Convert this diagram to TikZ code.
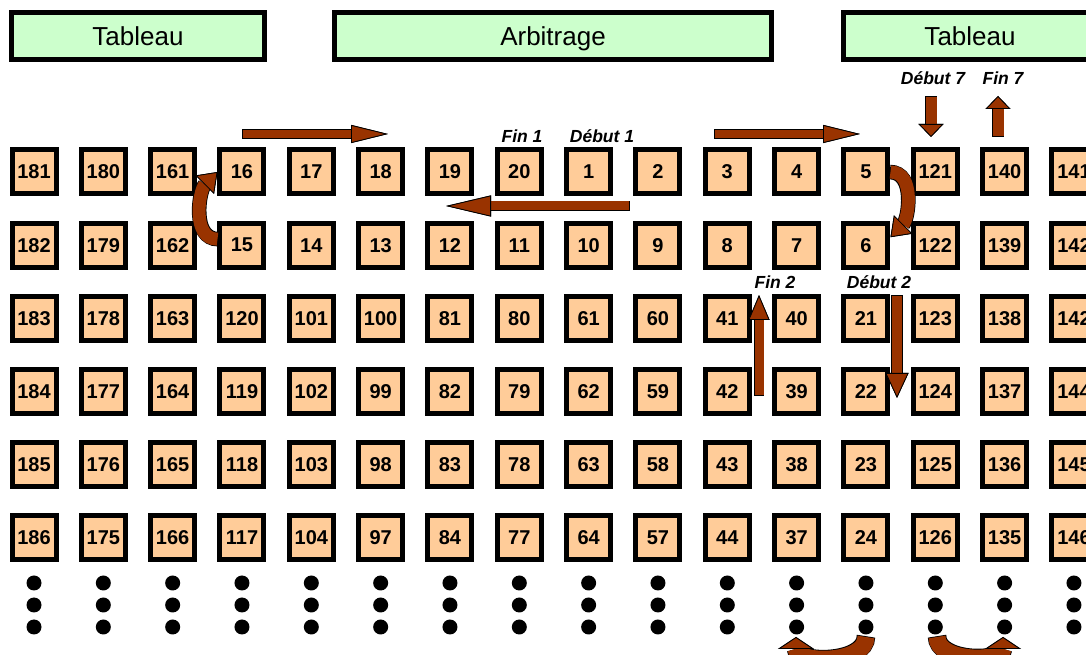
\documentclass[tikz,border=0pt]{standalone}
\usepackage{fontspec}
\setmainfont{Liberation Sans}
\usetikzlibrary{arrows.meta}

\definecolor{peach}{HTML}{FFCC99}
\definecolor{mint}{HTML}{CCFFCC}
\definecolor{rust}{HTML}{993300}

\tikzset{
  cell/.style={draw, line width=5pt, fill=peach, minimum size=44pt, inner sep=0pt,
    font=\bfseries\fontsize{20}{24}\selectfont},
  banner/.style={draw, line width=5pt, fill=mint, minimum height=47pt,
    text height=19pt, text depth=0pt, font=\fontsize{26}{30}\selectfont},
  tag/.style={font=\bfseries\itshape\fontsize{17.5}{20}\selectfont},
  flow/.style n args={3}{draw=rust, line width=#1,
    -{Triangle[length=#2, width=#3, line width=0.8pt, color=black, fill=rust]},
    preaction={draw=black, line width=#1+1.6pt, shorten <=-0.8pt}}
}

\begin{document}
\begin{tikzpicture}[x=1pt,y=1pt]
  \useasboundingbox (0,0) rectangle (1086,655);
  \clip (0,0) rectangle (1086,655);

  % headers
  \node[banner, minimum width=253pt] (tabL) at (138,619) {Tableau};
  \node[banner, minimum width=437pt] (arb) at (553,619) {Arbitrage};
  \node[banner, minimum width=253pt] (tabR) at (970,619) {Tableau};

  % grid of cells
  \foreach \row [count=\r from 0] in {
      {181,180,161,16,17,18,19,20,1,2,3,4,5,121,140,141},
      {182,179,162,15,14,13,12,11,10,9,8,7,6,122,139,142},
      {183,178,163,120,101,100,81,80,61,60,41,40,21,123,138,142},
      {184,177,164,119,102,99,82,79,62,59,42,39,22,124,137,144},
      {185,176,165,118,103,98,83,78,63,58,43,38,23,125,136,145},
      {186,175,166,117,104,97,84,77,64,57,44,37,24,126,135,146}}
    \foreach \v [count=\c from 0] in \row
      \node[cell] (n\v) at ({34+69.33*\c},{483-73.2*\r}) {\v};

  % dots
  \foreach \c in {0,...,15}
    \foreach \y in {72,50,28}
      \fill ({34+69.33*\c},\y) circle (7.5pt);

  % labels
  \node[tag] (fin1) at (522,519) {Fin 1};
  \node[tag] (deb1) at (602,519) {Début 1};
  \node[tag] (deb7) at (933,577) {Début 7};
  \node[tag] (fin7) at (1003,577) {Fin 7};
  \node[tag] (fin2) at (775,373) {Fin 2};
  \node[tag] (deb2) at (879,373) {Début 2};

  % straight arrows
  \coordinate (a1) at (243,521); \coordinate (b1) at (388,521);
  \coordinate (a2) at (715,521); \coordinate (b2) at (860,521);
  \coordinate (a3) at (629,449); \coordinate (b3) at (446,449);
  \draw[flow={8pt}{37pt}{18pt}] (a1) -- (b1);
  \draw[flow={8pt}{37pt}{18pt}] (a2) -- (b2);
  \draw[flow={9pt}{45pt}{21pt}] (a3) -- (b3);

  % vertical arrows
  \coordinate (a7) at (931,558); \coordinate (b7) at (931,518);
  \coordinate (c7) at (998,519); \coordinate (d7) at (998,559);
  \coordinate (c2) at (759,260); \coordinate (d2) at (759,360);
  \coordinate (a2d) at (897,359); \coordinate (b2d) at (897,257);
  \draw[flow={11pt}{13pt}{25pt}] (a7) -- (b7);
  \draw[flow={11pt}{13pt}{25pt}] (c7) -- (d7);
  \draw[flow={9pt}{25pt}{21pt}] (c2) -- (d2);
  \draw[flow={10pt}{25pt}{23pt}] (a2d) -- (b2d);

  % bent arrows
  \draw[flow={13pt}{18pt}{26pt}] (n5.east) to[out=0,in=45] ([yshift=8pt]n6.east);
  \draw[flow={13pt}{18pt}{26pt}] ([yshift=6pt]n15.west) to[out=180,in=225] (n16.west);

  % bottom bends
  \coordinate (u1) at (866,18); \coordinate (v1) at (796,18);
  \coordinate (u2) at (937,18); \coordinate (v2) at (1003,18);
  \draw[flow={17pt}{12pt}{36pt}] (u1) to[out=-90,in=-90] (v1);
  \draw[flow={17pt}{12pt}{36pt}] (u2) to[out=-90,in=-90] (v2);
\end{tikzpicture}
\end{document}
